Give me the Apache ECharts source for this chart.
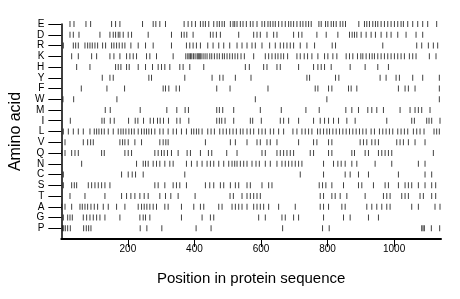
<!DOCTYPE html>
<html>
<head>
<meta charset="utf-8">
<script src="https://cdn.jsdelivr.net/npm/echarts@6/dist/echarts.min.js"></script>
<style>
  html, body {margin: 0; padding: 0; background: #fff;}
  #chart {width: 460px; height: 299px;}
</style>
</head>
<body>
<div id="chart"></div>
<script>
// residue letters, bottom row first
var aminoAcids = ['P', 'G', 'A', 'T', 'S', 'C', 'N', 'Q', 'V', 'L', 'I', 'M', 'W', 'F', 'Y', 'H', 'K', 'R', 'D', 'E'];
var xTicks = [200, 400, 600, 800, 1000];
var seqLength = 1141;

// positions of each residue in the sequence
var posE = [26, 38, 74, 88, 151, 163, 176, 244, 276, 284, 296, 313, 369, 381, 392, 403, 418, 426, 433, 443, 458, 468, 475, 483, 490, 508, 516, 521, 528, 538, 546, 556, 568, 576, 588, 603, 611, 621, 628, 636, 643, 653, 663, 673, 683, 690, 698, 708, 718, 726, 735, 743, 751, 774, 781, 794, 801, 811, 818, 826, 838, 846, 854, 894, 911, 918, 926, 936, 944, 951, 961, 971, 981, 991, 1001, 1011, 1021, 1028, 1041, 1056, 1071, 1086, 1101, 1128];
var posD = [26, 36, 53, 116, 146, 156, 163, 171, 176, 186, 201, 211, 261, 331, 361, 369, 377, 396, 448, 456, 466, 478, 533, 578, 588, 598, 618, 638, 648, 698, 713, 723, 768, 796, 831, 866, 874, 881, 888, 901, 916, 931, 944, 961, 978, 991, 1011, 1036, 1066, 1086];
var posR = [6, 36, 43, 51, 71, 79, 86, 93, 101, 109, 124, 133, 151, 158, 166, 174, 183, 191, 209, 231, 253, 276, 331, 376, 386, 396, 406, 418, 440, 456, 473, 488, 506, 528, 543, 558, 573, 583, 603, 626, 643, 658, 668, 678, 688, 698, 718, 738, 761, 814, 824, 966, 1068, 1083, 1103, 1118, 1131];
var posK = [31, 51, 91, 106, 146, 158, 176, 196, 206, 216, 226, 256, 266, 286, 336, 374, 380, 384, 388, 392, 397, 402, 408, 411, 414, 417, 420, 426, 432, 438, 446, 452, 460, 468, 475, 484, 490, 498, 506, 514, 522, 530, 540, 550, 578, 613, 623, 633, 643, 651, 660, 668, 680, 708, 718, 730, 740, 753, 771, 791, 801, 816, 828, 856, 866, 876, 890, 900, 906, 916, 926, 934, 941, 951, 961, 971, 981, 991, 1001, 1011, 1021, 1031, 1046, 1056, 1066, 1106, 1126];
var posH = [46, 86, 163, 171, 179, 196, 204, 231, 253, 274, 291, 301, 311, 326, 356, 366, 386, 428, 553, 565, 608, 618, 648, 658, 713, 758, 771, 781, 791, 811, 868, 913, 951, 983];
var posY = [123, 146, 156, 263, 271, 371, 453, 476, 486, 523, 570, 738, 746, 824, 834, 958, 976, 1006, 1016, 1056, 1086, 1136];
var posF = [60, 137, 190, 306, 313, 323, 345, 355, 467, 507, 621, 763, 771, 803, 813, 863, 871, 888, 1013, 1033, 1043, 1063, 1136];
var posW = [5, 37, 167, 583, 798, 1136];
var posM = [132, 147, 237, 317, 347, 372, 382, 467, 475, 485, 518, 598, 661, 735, 775, 855, 873, 893, 921, 933, 948, 968, 1018, 1048, 1063, 1073, 1083, 1108];
var posI = [27, 122, 129, 147, 159, 202, 222, 230, 247, 267, 277, 289, 297, 307, 322, 347, 357, 383, 467, 475, 482, 492, 518, 568, 575, 601, 658, 668, 683, 713, 758, 778, 791, 803, 818, 833, 858, 883, 978, 1053, 1061, 1098, 1105, 1113, 1138];
var posL = [6, 21, 36, 51, 66, 86, 99, 106, 113, 121, 129, 141, 156, 171, 179, 186, 194, 203, 211, 219, 231, 241, 249, 256, 263, 271, 281, 296, 306, 321, 336, 346, 361, 376, 391, 398, 406, 413, 423, 440, 450, 460, 476, 486, 496, 506, 516, 526, 538, 546, 558, 568, 578, 593, 603, 613, 628, 638, 653, 668, 696, 708, 723, 733, 743, 753, 770, 778, 788, 798, 806, 816, 826, 836, 846, 856, 866, 876, 886, 896, 906, 916, 931, 941, 956, 966, 976, 986, 996, 1011, 1021, 1031, 1041, 1058, 1068, 1078, 1090, 1120, 1128, 1136];
var posV = [11, 66, 79, 88, 96, 176, 184, 191, 201, 221, 241, 296, 306, 314, 321, 433, 508, 523, 558, 588, 598, 618, 628, 648, 713, 758, 768, 803, 813, 898, 908, 918, 933, 943, 953, 1008, 1018, 1028, 1043, 1063, 1093];
var posQ = [1, 11, 31, 41, 51, 121, 129, 191, 201, 211, 281, 291, 301, 309, 319, 331, 351, 378, 388, 418, 442, 452, 497, 528, 603, 613, 648, 658, 668, 678, 688, 698, 748, 758, 803, 813, 873, 881, 913, 923, 953, 963, 973, 983, 993, 1118];
var posN = [61, 226, 246, 253, 261, 276, 286, 296, 311, 326, 336, 376, 391, 408, 423, 438, 448, 458, 473, 488, 503, 513, 521, 528, 538, 548, 558, 573, 585, 595, 613, 628, 648, 663, 673, 683, 693, 703, 713, 723, 788, 818, 831, 841, 853, 873, 888, 943, 993, 1073, 1093];
var posC = [6, 181, 201, 213, 223, 246, 371, 718, 788, 853, 868, 893, 923, 1013, 1093, 1113];
var posS = [6, 31, 39, 46, 81, 91, 101, 111, 121, 131, 146, 281, 291, 311, 336, 346, 356, 376, 433, 446, 458, 478, 488, 508, 523, 533, 558, 568, 603, 623, 633, 775, 785, 795, 813, 848, 893, 903, 938, 973, 983, 1013, 1033, 1043, 1053, 1073, 1093, 1113, 1125];
var posT = [26, 71, 131, 181, 196, 209, 221, 236, 249, 261, 296, 313, 329, 351, 402, 507, 517, 543, 558, 568, 578, 588, 598, 778, 788, 813, 823, 838, 858, 913, 968, 978, 988, 1023, 1033, 1043, 1078, 1088, 1113, 1125];
var posA = [1, 11, 31, 56, 63, 71, 79, 89, 99, 109, 126, 141, 166, 191, 231, 241, 249, 257, 266, 276, 286, 311, 321, 361, 398, 418, 428, 473, 483, 513, 523, 533, 543, 558, 578, 588, 598, 608, 623, 653, 703, 778, 788, 803, 843, 853, 918, 933, 948, 963, 978, 988, 1053, 1073, 1123, 1138];
var posG = [6, 19, 26, 33, 66, 76, 86, 96, 106, 116, 131, 176, 236, 246, 253, 266, 361, 423, 448, 458, 593, 613, 663, 673, 698, 713, 788, 848, 868, 923, 953];
var posP = [3, 7, 12, 19, 27, 67, 75, 82, 89, 237, 257, 302, 405, 450, 665, 785, 805, 1083, 1087, 1091, 1112, 1137];

var rows = [posP, posG, posA, posT, posS, posC, posN, posQ, posV, posL, posI, posM, posW, posF, posY, posH, posK, posR, posD, posE];

var points = [];
rows.forEach(function (list, i) {
    list.forEach(function (p) {
        points.push([p, i + 1]);
    });
});

var myChart = echarts.init(document.getElementById('chart'), null, {renderer: 'canvas'});
var font = 'Liberation Sans, Arial, sans-serif';
var rowTicks = aminoAcids.map(function (a, i) { return i + 1; });

var option = {
    animation: false,
    grid: {left: 58, right: 19, top: 24, bottom: 60},
    xAxis: {
        type: 'value',
        min: 0,
        max: seqLength,
        name: 'Position in protein sequence',
        nameLocation: 'middle',
        nameGap: 32,
        nameTextStyle: {fontFamily: font, fontSize: 15, color: '#000'},
        splitLine: {show: false},
        axisLine: {lineStyle: {color: '#000', width: 2}},
        axisTick: {length: 8, customValues: xTicks, lineStyle: {color: '#000', width: 1}},
        axisLabel: {
            customValues: xTicks,
            formatter: function (v) { return String(v); },
            fontFamily: font,
            fontSize: 10,
            color: '#000',
            margin: 5
        }
    },
    yAxis: {
        type: 'value',
        min: 0,
        max: 20,
        name: 'Amino acid',
        nameLocation: 'middle',
        nameGap: 35,
        nameRotate: 90,
        nameTextStyle: {fontFamily: font, fontSize: 16, color: '#000'},
        splitLine: {show: false},
        axisLine: {show: true, lineStyle: {color: '#000', width: 1.5}},
        axisTick: {length: 13, customValues: rowTicks, lineStyle: {color: '#000', width: 1}},
        axisLabel: {
            customValues: rowTicks,
            formatter: function (v) { return aminoAcids[v - 1] || ''; },
            fontFamily: font,
            fontSize: 10,
            color: '#000',
            margin: 17
        }
    },
    series: [{
        type: 'scatter',
        symbol: 'rect',
        symbolSize: [1, 6],
        itemStyle: {color: '#111'},
        data: points
    }]
};

myChart.setOption(option);
</script>
</body>
</html>
